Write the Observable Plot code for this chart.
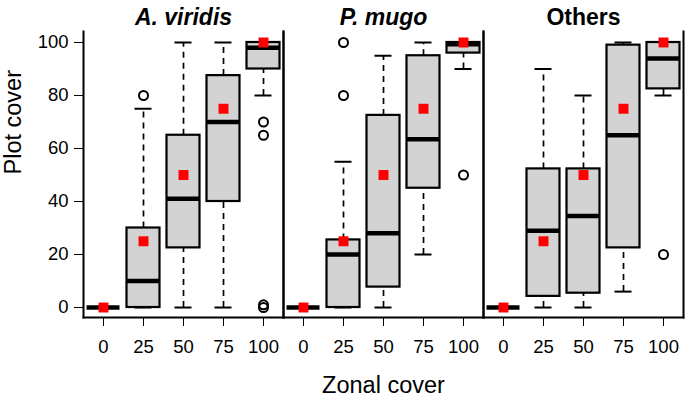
<!DOCTYPE html>
<html>
<head>
<meta charset="utf-8">
<script src="https://cdn.jsdelivr.net/npm/d3@7"></script>
<script src="https://cdn.jsdelivr.net/npm/@observablehq/plot@0.6"></script>
<style>
  html, body { margin: 0; padding: 0; background: #fff; }
</style>
</head>
<body>
<div id="chart"></div>
<script>
// Panels (facets) and categories
const groups = ["A. viridis", "P. mugo", "Others"];
const zones = [0, 25, 50, 75, 100];
const yTicks = [0, 20, 40, 60, 80, 100];

// Box-plot statistics, group-major order (5 zones per group)
const lowWhisker  = [0, 0,   0,    0,    80,   0, 0,    0,    20,   90,   0, 0,    0,    6,    80];
const q1          = [0, 0,   22.5, 40,   90,   0, 0,    7.7,  45,   96,   0, 4.2,  5.4,  22.5, 82.5];
const median      = [0, 10,  41,   70,   98,   0, 20,   28,   63.5, 99.3, 0, 29,   34.5, 65,   94];
const q3          = [0, 30,  65,   87.5, 100,  0, 25.5, 72.5, 95,   100,  0, 52.3, 52.3, 99,   100];
const highWhisker = [0, 75,  100,  100,  100,  0, 55,   95,   100,  100,  0, 90,   80,   100,  100];
const mean        = [0, 25,  50,   75,   100,  0, 25,   50,   75,   100,  0, 25,   50,   75,   100];

// Outliers
const outlierGroup = ["A. viridis", "A. viridis", "A. viridis", "A. viridis", "A. viridis", "P. mugo", "P. mugo", "P. mugo", "Others"];
const outlierZone  = [25, 100, 100, 100, 100, 25, 25, 100, 100];
const outlierValue = [80, 70, 65, 1, 0, 100, 80, 50, 20];

const rows = groups.flatMap((g, gi) => zones.map((z, zi) => {
  const i = gi * zones.length + zi;
  return {group: g, zone: z, lo: lowWhisker[i], q1: q1[i], med: median[i], q3: q3[i], hi: highWhisker[i], mean: mean[i]};
}));
const outliers = outlierValue.map((v, i) => ({group: outlierGroup[i], zone: outlierZone[i], value: v}));

const font = "'Liberation Sans', Arial, Helvetica, sans-serif";
const boxInset = 3.5;
const capInset = 11.5;

const chart = Plot.plot({
  width: 685,
  height: 400,
  marginLeft: 83,
  marginRight: 2,
  marginTop: 31,
  marginBottom: 83,
  style: {fontFamily: font, fontSize: "18.5px", color: "#000", background: "#fff"},
  fx: {domain: groups, paddingInner: 0, paddingOuter: 0, axis: null, label: null},
  x: {domain: zones, padding: 0, label: null, tickSize: 9, tickPadding: 13},
  y: {domain: [-3.77, 104.15], ticks: yTicks, label: null, tickSize: 9, tickPadding: 6},
  marks: [
    // whiskers
    Plot.ruleX(rows, {fx: "group", x: "zone", y1: "q3", y2: "hi", stroke: "#000", strokeWidth: 1.7, strokeDasharray: "6,5"}),
    Plot.ruleX(rows, {fx: "group", x: "zone", y1: "lo", y2: "q1", stroke: "#000", strokeWidth: 1.7, strokeDasharray: "6,5"}),
    // whisker caps
    Plot.tickY(rows, {fx: "group", x: "zone", y: "hi", stroke: "#000", strokeWidth: 2, insetLeft: capInset, insetRight: capInset}),
    Plot.tickY(rows, {fx: "group", x: "zone", y: "lo", stroke: "#000", strokeWidth: 2, insetLeft: capInset, insetRight: capInset}),
    // boxes
    Plot.barY(rows, {fx: "group", x: "zone", y1: "q1", y2: "q3", fill: "#d3d3d3", stroke: "#000", strokeWidth: 2.2, insetLeft: boxInset, insetRight: boxInset}),
    // medians
    Plot.tickY(rows, {fx: "group", x: "zone", y: "med", stroke: "#000", strokeWidth: 4.5, insetLeft: boxInset, insetRight: boxInset}),
    // outliers
    Plot.dot(outliers, {fx: "group", x: "zone", y: "value", r: 4.5, stroke: "#000", strokeWidth: 2, fill: "none"}),
    // means
    Plot.dot(rows, {fx: "group", x: "zone", y: "mean", symbol: "square", r: 5.6, fill: "#ff0000", stroke: "none"}),
    // frame lines (no top)
    Plot.frame({anchor: "left", stroke: "#000", strokeWidth: 2}),
    Plot.frame({anchor: "right", stroke: "#000", strokeWidth: 2}),
    Plot.frame({anchor: "bottom", stroke: "#000", strokeWidth: 2}),
    // panel titles
    Plot.text(groups.slice(0, 2).map(g => ({group: g})), {fx: "group", text: "group", frameAnchor: "top", dy: -7, lineAnchor: "bottom", fontWeight: "bold", fontStyle: "italic", fontSize: 23, fill: "#000"}),
    Plot.text(groups.slice(2).map(g => ({group: g})), {fx: "group", text: "group", frameAnchor: "top", dy: -7, lineAnchor: "bottom", fontWeight: "bold", fontSize: 23, fill: "#000"}),
    // axis titles
    Plot.text([{group: "P. mugo", label: "Zonal cover"}], {fx: "group", text: "label", frameAnchor: "bottom", dy: 75, lineAnchor: "bottom", fontSize: 23.5, fill: "#000"}),
    Plot.text([{group: "A. viridis", label: "Plot cover"}], {fx: "group", text: "label", frameAnchor: "left", dx: -70.5, rotate: -90, fontSize: 23.5, fill: "#000"})
  ]
});
document.getElementById("chart").appendChild(chart);
</script>
</body>
</html>
